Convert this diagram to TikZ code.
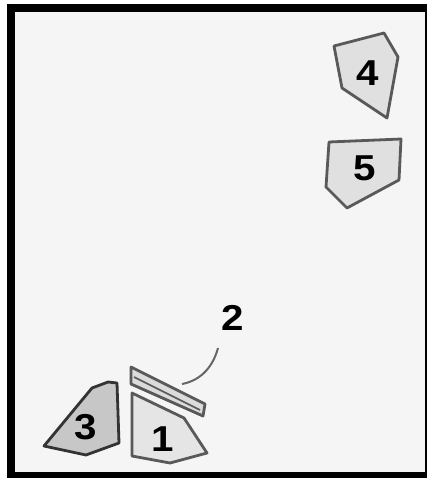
\documentclass[tikz,border=0pt]{standalone}
\usepackage{fontspec}
\setmainfont{Liberation Sans}
\begin{document}
\begin{tikzpicture}[x=1pt,y=-1pt,
  piece/.style={draw=gray!70!black,line width=2.8pt,fill=black!12,line join=round},
  darkpiece/.style={draw=black!80,line width=2.8pt,fill=black!22,line join=round},
  numlabel/.style={font=\fontsize{36}{36}\selectfont\bfseries,inner sep=0pt,xscale=1.12},
  leader/.style={draw=gray!80!black,line width=2pt}]
\useasboundingbox (0,0) rectangle (427,478);
\fill[white] (0,0) rectangle (427,478);
\fill[black] (7,4) rectangle (427,478);
\fill[black!4] (15,12) rectangle (425.3,472);
% piece 4
\draw[piece] (334,46) -- (384,33) -- (398,57) -- (387,118) -- (342,88) -- cycle;
\node[numlabel] (n4) at (368,73) {4};
% piece 5
\draw[piece] (329,142) -- (401,139) -- (399,180) -- (347,208) -- (326,187) -- cycle;
\node[numlabel] (n5) at (365,168) {5};
% piece 3
\draw[darkpiece] (44,446) -- (92,388) -- (108,382) -- (117,383) -- (119,443) -- (86,455) -- cycle;
\node[numlabel] (n3) at (86,427) {3};
% piece 1
\draw[piece,fill=black!10] (132,393) -- (184,418) -- (207,453) -- (170,463) -- (132,456) -- cycle;
\node[numlabel] (n1) at (163,439) {1};
% slab 2
\draw[piece,fill=black!14] (131,367) -- (205,404) -- (203,416) -- (131,384) -- cycle;
\draw[draw=gray!70!black,line width=1.6pt] (134,377) -- (200,410);
\node[numlabel] (n2) at (233,318) {2};
\coordinate (s2) at (182,384);
\draw[leader] (218,348) .. controls (212,370) and (198,381) .. (s2);
\end{tikzpicture}
\end{document}
